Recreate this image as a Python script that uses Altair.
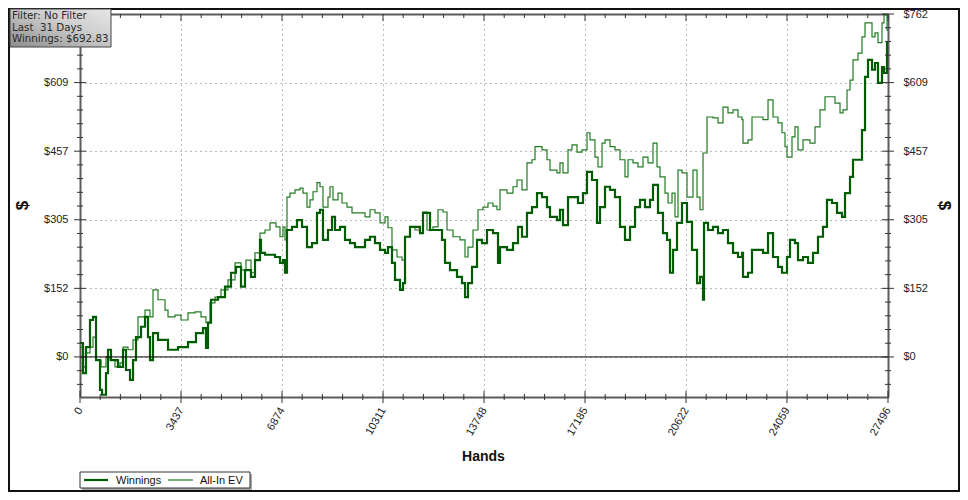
import altair as alt
import pandas as pd

# ---------------- data ----------------
win_hands = [0, 102, 204, 340, 442, 545, 681, 749, 885, 953, 1055, 1293, 1463, 1565, 1702, 1804, 1906, 2076, 2212, 2314,
             2382, 2484, 2654, 2995, 3335, 3675, 3947, 4186, 4288, 4356, 4458, 4696, 4934, 5139, 5309, 5479, 5615, 5819,
             5955, 6125, 6159, 6296, 6636, 6806, 6908, 6976, 7044, 7214, 7384, 7555, 7725, 7895, 8065, 8167, 8269, 8439,
             8576, 8678, 8848, 9018, 9188, 9358, 9528, 9699, 9869, 10039, 10209, 10379, 10481, 10617, 10719, 10890,
             10992, 11060, 11230, 11570, 11672, 11911, 12149, 12319, 12421, 12591, 12829, 12999, 13102, 13204, 13340,
             13510, 13680, 13850, 14054, 14225, 14293, 14531, 14735, 14905, 15041, 15211, 15382, 15552, 15722, 15892,
             15994, 16232, 16334, 16436, 16607, 16777, 16947, 17117, 17253, 17423, 17594, 17696, 17866, 18036, 18206,
             18376, 18546, 18717, 18887, 19057, 19227, 19397, 19499, 19669, 19839, 19976, 20078, 20180, 20316, 20486,
             20656, 20826, 20997, 21099, 21201, 21235, 21371, 21541, 21711, 21881, 22051, 22222, 22392, 22528, 22562,
             22732, 22868, 23072, 23242, 23413, 23583, 23753, 23889, 24059, 24161, 24331, 24433, 24604, 24774, 24944,
             25114, 25284, 25420, 25591, 25761, 25931, 26033, 26203, 26305, 26475, 26611, 26714, 26816, 26952, 27054,
             27156, 27292, 27360, 27462, 27496]
win_values = [31, -36, 22, 82, 89, -7, -73, -84, -36, 16, -7, -22, 16, -29, -51, -7, 44, 67, 89, 44,
              -7, 53, 38, 16, 22, 33, 53, 64, 20, 76, 127, 133, 156, 187, 200, 156, 193, 178,
              215, 260, 231, 227, 222, 209, 215, 187, 282, 289, 304, 289, 244, 253, 320, 327, 260, 282,
              311, 282, 289, 260, 253, 244, 244, 260, 267, 253, 238, 231, 244, 209, 171, 149,
              164, 267, 289, 275, 320, 282, 282, 260, 209, 193, 178, 164, 133, 164, 200,
              260, 253, 282, 275, 209, 244, 238, 253, 289, 267, 320, 333, 364, 355, 333,
              311, 304, 327, 293, 355, 355, 342, 364, 411, 393, 298, 333, 378, 371, 355,
              289, 260, 289, 333, 349, 333, 349, 382, 320, 275, 260, 187, 238, 298, 342,
              300, 238, 164, 178, 127, 298, 282, 289, 275, 282, 253, 231, 222, 231, 178,
              187, 238, 238, 231, 275, 222, 200, 187, 222, 260, 253, 215, 222, 209, 231,
              267, 289, 349, 342, 320, 311, 364, 400, 438, 438, 504, 622, 660, 638, 653,
              609, 644, 631, 698, 693]

ev_hands = [0, 102, 204, 340, 442, 545, 715, 885, 1021, 1191, 1361, 1463, 1633, 1804, 1974, 2212, 2382, 2484, 2654,
            2893, 2995, 3233, 3437, 3675, 3913, 4118, 4288, 4424, 4594, 4798, 5036, 5275, 5479, 5649, 5819, 5955,
            6125, 6296, 6466, 6670, 6806, 6908, 6976, 7044, 7146, 7316, 7487, 7589, 7725, 7827, 7929, 8065, 8167,
            8269, 8439, 8508, 8610, 8780, 8916, 9086, 9256, 9460, 9699, 9869, 10039, 10209, 10379, 10481, 10617,
            10788, 10958, 11060, 11230, 11400, 11570, 11672, 11808, 12013, 12183, 12353, 12489, 12693, 12931, 13102,
            13204, 13374, 13544, 13714, 13884, 14054, 14190, 14293, 14531, 14735, 14871, 15041, 15211, 15382, 15484,
            15722, 15892, 15994, 16232, 16334, 16436, 16607, 16743, 16913, 17083, 17253, 17355, 17525, 17628, 17764,
            17866, 18036, 18206, 18376, 18546, 18648, 18819, 18989, 19159, 19329, 19499, 19635, 19737, 19908, 20010,
            20146, 20248, 20350, 20486, 20656, 20860, 20997, 21099, 21201, 21337, 21541, 21711, 21881, 22051, 22222,
            22392, 22528, 22562, 22732, 22868, 23072, 23242, 23413, 23583, 23753, 23889, 23991, 24059, 24229, 24331,
            24433, 24604, 24842, 25012, 25182, 25352, 25523, 25693, 25863, 25965, 26101, 26203, 26305, 26475, 26611,
            26714, 26816, 26952, 27054, 27156, 27292, 27360, 27462, 27496]
ev_values = [22, -22, 9, 22, 44, -7, -22, 0, -7, -22, -13, 22, 16, 38, 89, 104, 89, 149, 127,
             104, 89, 93, 82, 98, 100, 89, 76, 120, 133, 149, 171, 209, 193, 215, 187, 231,
             275, 282, 298, 289, 267, 289, 260, 355, 364, 371, 375, 364, 333, 349, 367, 387, 378,
             333, 355, 378, 349, 364, 342, 333, 320, 320, 311, 327, 320, 298, 311, 287, 238,
             222, 215, 267, 289, 282, 275, 322, 282, 289, 327, 322, 282, 267, 260, 222,
             244, 282, 327, 333, 342, 335, 327, 371, 364, 378, 393, 371, 431, 438, 467,
             460, 438, 415, 409, 431, 409, 460, 471, 455, 460, 498, 482, 444, 422, 475,
             482, 467, 460, 438, 400, 438, 431, 422, 444, 431, 475, 422, 400, 364, 342,
             364, 311, 415, 409, 355, 415, 355, 327, 453, 533, 531, 520, 555, 542, 549,
             533, 527, 475, 482, 533, 533, 527, 571, 533, 520, 498, 467, 444, 489, 511,
             460, 482, 475, 511, 549, 578, 578, 564, 542, 549, 593, 615, 660, 675, 711,
             742, 742, 711, 720, 698, 742, 760, 726, 726]

x_ticks = [0, 3437, 6874, 10311, 13748, 17185, 20622, 24059, 27496]
y_ticks = [0, 152.36, 304.72, 457.08, 609.44, 761.8]
y_min = -89
series_names = ["Winnings", "All-In EV"]
series_colors = ["#005c00", "#237a23"]
series_widths = [2.2, 1.2]
info_lines = ["Filter: No Filter", "Last\u00a0 31 Days", "Winnings: $692.83"]

# ---------------- layout ----------------
W, H = 808, 383
AX = "#5c5c5c"
FONT = "Liberation Sans"

xs = alt.Scale(domain=[x_ticks[0], x_ticks[-1]], nice=False, zero=False)
ys = alt.Scale(domain=[y_min, y_ticks[-1]], nice=False, zero=False)

x_step = x_ticks[1] / 5
y_step = y_ticks[1] / 5
x_minor = [k * x_step for k in range(1, 40) if k % 5]
y_minor = [k * y_step for k in range(-2, 25) if k % 5]

win_df = pd.DataFrame({"hands": win_hands, "value": win_values})
ev_df = pd.DataFrame({"hands": ev_hands, "value": ev_values})

label_expr = "'$' + format(datum.value, '.0f')"

ev_line = alt.Chart(ev_df).mark_line(clip=True, color=series_colors[1], strokeWidth=series_widths[1],
                                     interpolate="step-after").encode(
    x=alt.X("hands:Q", scale=xs, axis=alt.Axis(
        orient="bottom", values=x_ticks, format="d", labelAngle=-60, labelAlign="right",
        labelBaseline="middle", labelPadding=11, labelFont=FONT, labelFontSize=11, labelColor="#222",
        labelOverlap=False, labelFlush=False, ticks=False, grid=True, gridDash=[1, 4], gridColor="#777",
        gridWidth=1, domainColor=AX, domainWidth=2, title="Hands", titleFont=FONT, titleFontSize=14,
        titleFontWeight="bold", titleColor="#111", titleX=403, titleY=59, titleBaseline="middle")),
    y=alt.Y("value:Q", scale=ys, axis=alt.Axis(
        orient="left", values=y_ticks[:-1], labelExpr=label_expr, labelPadding=12, labelFont=FONT,
        labelFontSize=11, labelColor="#222", ticks=False, grid=True, gridDash=[1, 4],
        gridColor="#777", gridWidth=1, domainColor=AX, domainWidth=2, title="$", titleFont=FONT,
        titleFontSize=17, titleFontWeight="bold", titleColor="#111", titleX=-58, titleY=191,
        titleBaseline="middle", titleAlign="center")),
)

win_line = alt.Chart(win_df).mark_line(clip=True, color=series_colors[0], strokeWidth=series_widths[0],
                                       interpolate="step-after").encode(
    x=alt.X("hands:Q", scale=xs, axis=alt.Axis(
        orient="top", labels=False, ticks=False, grid=False, domainColor=AX, domainWidth=2, title=None)),
    y=alt.Y("value:Q", scale=ys, axis=alt.Axis(
        orient="right", values=y_ticks, labelExpr=label_expr, labelPadding=15, labelFont=FONT,
        labelFontSize=11, labelColor="#222", ticks=False, grid=False, domainColor=AX, domainWidth=2,
        title="$", titleFont=FONT, titleFontSize=17, titleFontWeight="bold", titleColor="#111",
        titleX=55, titleY=191, titleBaseline="middle", titleAlign="center")),
)

zero_line = alt.Chart(pd.DataFrame({"v": [0]})).mark_rule(color="black", strokeWidth=1).encode(
    y=alt.Y("v:Q", scale=ys, axis=None))


def yticks(vals, x0, x1):
    return alt.Chart(pd.DataFrame({"v": vals})).mark_rule(color="#333", strokeWidth=1).encode(
        y=alt.Y("v:Q", scale=ys, axis=None), x=alt.value(x0), x2=alt.value(x1))


def xticks(vals, y0, y1):
    return alt.Chart(pd.DataFrame({"v": vals})).mark_rule(color="#333", strokeWidth=1).encode(
        x=alt.X("v:Q", scale=xs, axis=None), y=alt.value(y0), y2=alt.value(y1))


tick_layers = [
    yticks(y_ticks, -6, 6), yticks(y_minor, -3, 3),
    yticks(y_ticks, W - 6, W + 6), yticks(y_minor, W - 3, W + 3),
    xticks(x_ticks, H - 6, H + 6), xticks(x_minor, H - 3, H + 3),
    xticks(x_ticks, 0, 7), xticks(x_minor, 0, 4),
]

one = pd.DataFrame({"a": [0]})

frame = alt.Chart(one).mark_rect(fill="white", fillOpacity=0, stroke="#111", strokeWidth=2).encode(
    x=alt.value(-71), x2=alt.value(879), y=alt.value(-5), y2=alt.value(477))

# legend (drawn by hand, bottom-left)
legend_shadow = alt.Chart(one).mark_rect(color="#a8a8a8").encode(
    x=alt.value(2), x2=alt.value(172), y=alt.value(460), y2=alt.value(476))
legend_box = alt.Chart(one).mark_rect(fill="white", stroke="#333", strokeWidth=1).encode(
    x=alt.value(0), x2=alt.value(170), y=alt.value(458), y2=alt.value(474))
leg_sym1 = alt.Chart(one).mark_rule(color=series_colors[0], strokeWidth=series_widths[0]).encode(
    x=alt.value(4), x2=alt.value(28), y=alt.value(466))
leg_txt1 = alt.Chart(one).mark_text(text=series_names[0], align="left", baseline="middle", font=FONT,
                                    fontSize=11, color="#111").encode(x=alt.value(36), y=alt.value(466.5))
leg_sym2 = alt.Chart(one).mark_rule(color=series_colors[1], strokeWidth=series_widths[1]).encode(
    x=alt.value(88), x2=alt.value(113), y=alt.value(466))
leg_txt2 = alt.Chart(one).mark_text(text=series_names[1], align="left", baseline="middle", font=FONT,
                                    fontSize=11, color="#111").encode(x=alt.value(120), y=alt.value(466.5))

info_box = alt.Chart(one).mark_rect(
    stroke="#444", strokeWidth=1,
    color=alt.Gradient(gradient="linear", x1=0, y1=1, x2=1, y2=0,
                       stops=[alt.GradientStop(offset=0, color="#8c8c8c"),
                              alt.GradientStop(offset=0.6, color="#cfcfcf"),
                              alt.GradientStop(offset=1, color="#e6e6e6")])
).encode(x=alt.value(-70), x2=alt.value(31), y=alt.value(-5), y2=alt.value(33))

info_text = alt.Chart(one).mark_text(
    text=info_lines, align="left", baseline="top", font="DejaVu Sans", fontSize=10.3,
    lineHeight=11.5, color="#2a2a2a"
).encode(x=alt.value(-68), y=alt.value(-3))

chart = alt.layer(
    ev_line, win_line, zero_line, *tick_layers, frame,
    legend_shadow, legend_box, leg_sym1, leg_txt1, leg_sym2, leg_txt2,
    info_box, info_text
).resolve_axis(x="independent", y="independent").properties(
    width=W, height=H,
    padding={"left": 72, "top": 6, "right": 72, "bottom": 95},
    autosize=alt.AutoSizeParams(type="none"),
    background="white",
).configure_view(stroke=None)

chart.save("out.html", embed_options={"renderer": "svg", "actions": False})
